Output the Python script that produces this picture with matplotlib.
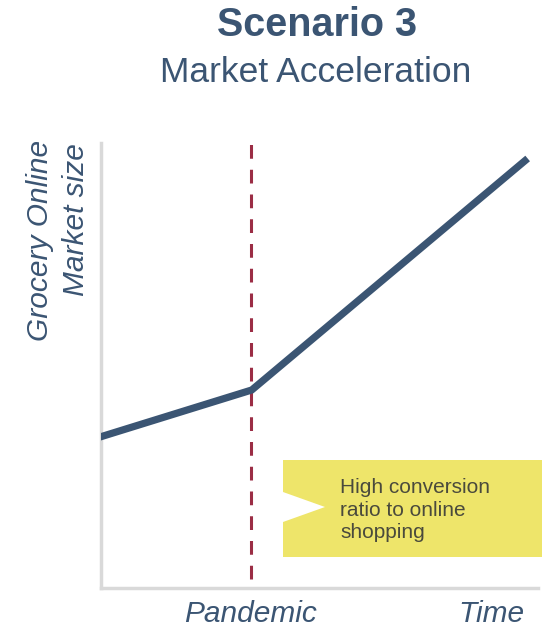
import matplotlib.pyplot as plt
from matplotlib.patches import Polygon

plt.rcParams['font.family'] = ['Liberation Sans', 'DejaVu Sans']

# data (relative units, axes go 0..1)
time = [0.0, 0.345, 0.97]
market_size = [0.34, 0.445, 0.96]
pandemic_x = 0.343

title = "Scenario 3"
subtitle = "Market Acceleration"
ylabel_lines = ["Grocery Online", "Market size"]
callout_text = "High conversion\nratio to online\nshopping"

W, H = 542, 631
navy = '#3b5573'
red = '#9b2d45'
grey = '#d9d9d9'
yellow = '#eee56a'

fig = plt.figure(figsize=(W / 100, H / 100), dpi=100)


def fx(px):
    return px / W


def fy(py):
    return 1 - py / H


ax = fig.add_axes([fx(101), fy(588), fx(538) - fx(101), fy(143) - fy(588)])
ax.set_xlim(0, 1)
ax.set_ylim(0, 1)
ax.plot(time, market_size, color=navy, lw=5.2, solid_joinstyle='miter', zorder=3)
ax.plot([pandemic_x, pandemic_x], [0.02, 1.0], color=red, lw=2.2,
        linestyle=(0, (4.5, 3.6)), zorder=2)

for s in ['top', 'right']:
    ax.spines[s].set_visible(False)
for s in ['left', 'bottom']:
    ax.spines[s].set_color(grey)
    ax.spines[s].set_linewidth(2.5)
ax.set_xticks([])
ax.set_yticks([])

# titles
fig.text(fx(317), fy(25), title, ha='center', va='center', fontsize=28.5,
         fontweight='bold', color=navy)
fig.text(fx(316), fy(72), subtitle, ha='center', va='center', fontsize=25.5,
         color=navy)

# y label, two rotated lines aligned at the top
fig.text(fx(40), fy(140), ylabel_lines[0], rotation=90, ha='center', va='top',
         fontsize=21.5, style='italic', color=navy)
fig.text(fx(76), fy(143), ylabel_lines[1], rotation=90, ha='center', va='top',
         fontsize=21.5, style='italic', color=navy)

# x labels
fig.text(fx(251), fy(614), "Pandemic", ha='center', va='center', fontsize=21.5,
         style='italic', color=navy)
fig.text(fx(491), fy(614), "Time", ha='center', va='center', fontsize=21.5,
         style='italic', color=navy)

# callout box with notch on the left
pts = [(283, 460), (542, 460), (542, 557), (283, 557),
       (283, 522), (325, 507), (283, 492)]
fig.patches.append(Polygon([(fx(x), fy(y)) for x, y in pts], closed=True,
                           transform=fig.transFigure, facecolor=yellow,
                           edgecolor='none', zorder=5))
fig.text(fx(340), fy(510), callout_text, ha='left', va='center', fontsize=15,
         color='#4a4a3c', linespacing=1.22, zorder=6)

fig.savefig('out.png', dpi=100)
